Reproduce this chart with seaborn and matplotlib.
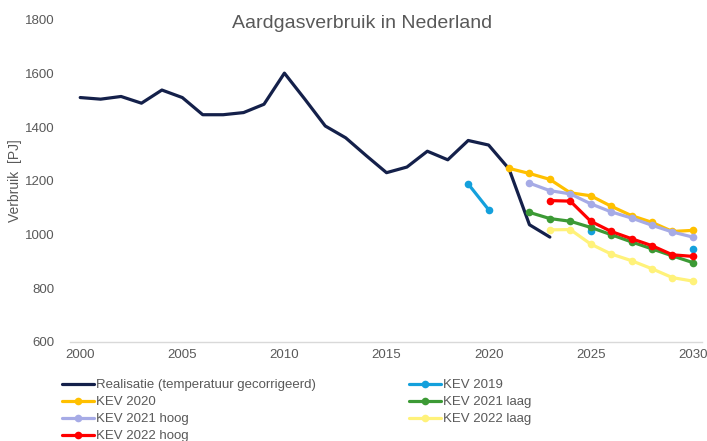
import numpy as np
import pandas as pd
import matplotlib
matplotlib.use("Agg")
import matplotlib.pyplot as plt
import seaborn as sns
from matplotlib.lines import Line2D

# ---- data ----
years_real = list(range(2000, 2024))
realisatie = [1511, 1505, 1515, 1490, 1539, 1511, 1447, 1447, 1455, 1486, 1602, 1505,
              1405, 1361, 1295, 1231, 1252, 1311, 1279, 1351, 1334, 1245, 1037, 991]

years_kev2019 = [2019, 2020, 2021, 2022, 2023, 2024, 2025, 2026, 2027, 2028, 2029, 2030]
kev2019 = [1189, 1093, np.nan, np.nan, np.nan, np.nan, 1012, np.nan, np.nan, np.nan, np.nan, 945]

years_kev2020 = list(range(2021, 2031))
kev2020 = [1247, 1228, 1206, 1156, 1145, 1106, 1071, 1046, 1012, 1016]

years_kev2021 = list(range(2022, 2031))
kev2021_laag = [1083, 1060, 1050, 1027, 1000, 973, 947, 921, 896]
kev2021_hoog = [1192, 1164, 1152, 1115, 1085, 1062, 1035, 1010, 991]

years_kev2022 = list(range(2023, 2031))
kev2022_laag = [1018, 1019, 965, 928, 903, 873, 840, 827]
kev2022_hoog = [1127, 1125, 1050, 1012, 985, 959, 925, 919]

labels = ["Realisatie (temperatuur gecorrigeerd)", "KEV 2019", "KEV 2020",
          "KEV 2021 laag", "KEV 2021 hoog", "KEV 2022 laag", "KEV 2022 hoog"]
colors = ["#14204A", "#14A0DC", "#FFC000", "#3C9A35", "#A6ABE6", "#FFF27A", "#FF0000"]

series = [
    (years_real, realisatie, False),
    (years_kev2019, kev2019, True),
    (years_kev2020, kev2020, True),
    (years_kev2021, kev2021_laag, True),
    (years_kev2021, kev2021_hoog, True),
    (years_kev2022, kev2022_laag, True),
    (years_kev2022, kev2022_hoog, True),
]

sns.set_theme(style="white")
plt.rcParams["font.family"] = ["Liberation Sans", "DejaVu Sans"]
grey = "#595959"

fig = plt.figure(figsize=(7.07, 4.41), dpi=100)
ax = fig.add_axes([70 / 707, 1 - 342 / 441, 632 / 707, 322 / 441])

handles = []
for (xs, ys, mk), lab, col in zip(series, labels, colors):
    df = pd.DataFrame({"jaar": xs, "waarde": ys})
    # split into contiguous non-missing runs so gaps are kept
    valid = df["waarde"].notna()
    run_id = (valid != valid.shift()).cumsum()
    for _, part in df[valid].groupby(run_id[valid]):
        sns.lineplot(data=part, x="jaar", y="waarde", ax=ax, color=col, linewidth=2.3,
                     marker="o" if mk else None, markersize=5.5, markeredgewidth=0,
                     estimator=None, legend=False)
    handles.append(Line2D([], [], color=col, linewidth=2.3,
                          marker="o" if mk else None, markersize=5.5, markeredgewidth=0))

ax.set_xlim(1999.5, 2030.45)
ax.set_ylim(600, 1800)
ax.set_xticks(range(2000, 2031, 5))
ax.set_yticks(range(600, 1801, 200))
ax.tick_params(axis="both", length=0, labelsize=9.5, labelcolor=grey)
ax.tick_params(axis="y", pad=11)
ax.tick_params(axis="x", pad=5)
for s in ["top", "right", "left"]:
    ax.spines[s].set_visible(False)
ax.spines["bottom"].set_color("#D9D9D9")
ax.spines["bottom"].set_linewidth(1.0)
ax.set_xlabel("")
ax.set_ylabel("Verbruik  [PJ]", fontsize=10, color=grey, labelpad=2)
ax.grid(False)

fig.text(362 / 707, 1 - 23 / 441, "Aardgasverbruik in Nederland", fontsize=14,
         color=grey, ha="center", va="center")

order = [0, 2, 4, 6, 1, 3, 5]
leg = fig.legend([handles[i] for i in order], [labels[i] for i in order],
                 ncol=2, loc="upper left", bbox_to_anchor=(62 / 707, 1 - 379 / 441),
                 frameon=False, fontsize=9.5, handlelength=2.4, handletextpad=0.15,
                 columnspacing=7.1, labelspacing=0.36, borderpad=0, borderaxespad=0)
for t in leg.get_texts():
    t.set_color(grey)

fig.savefig("out.png", dpi=100)
